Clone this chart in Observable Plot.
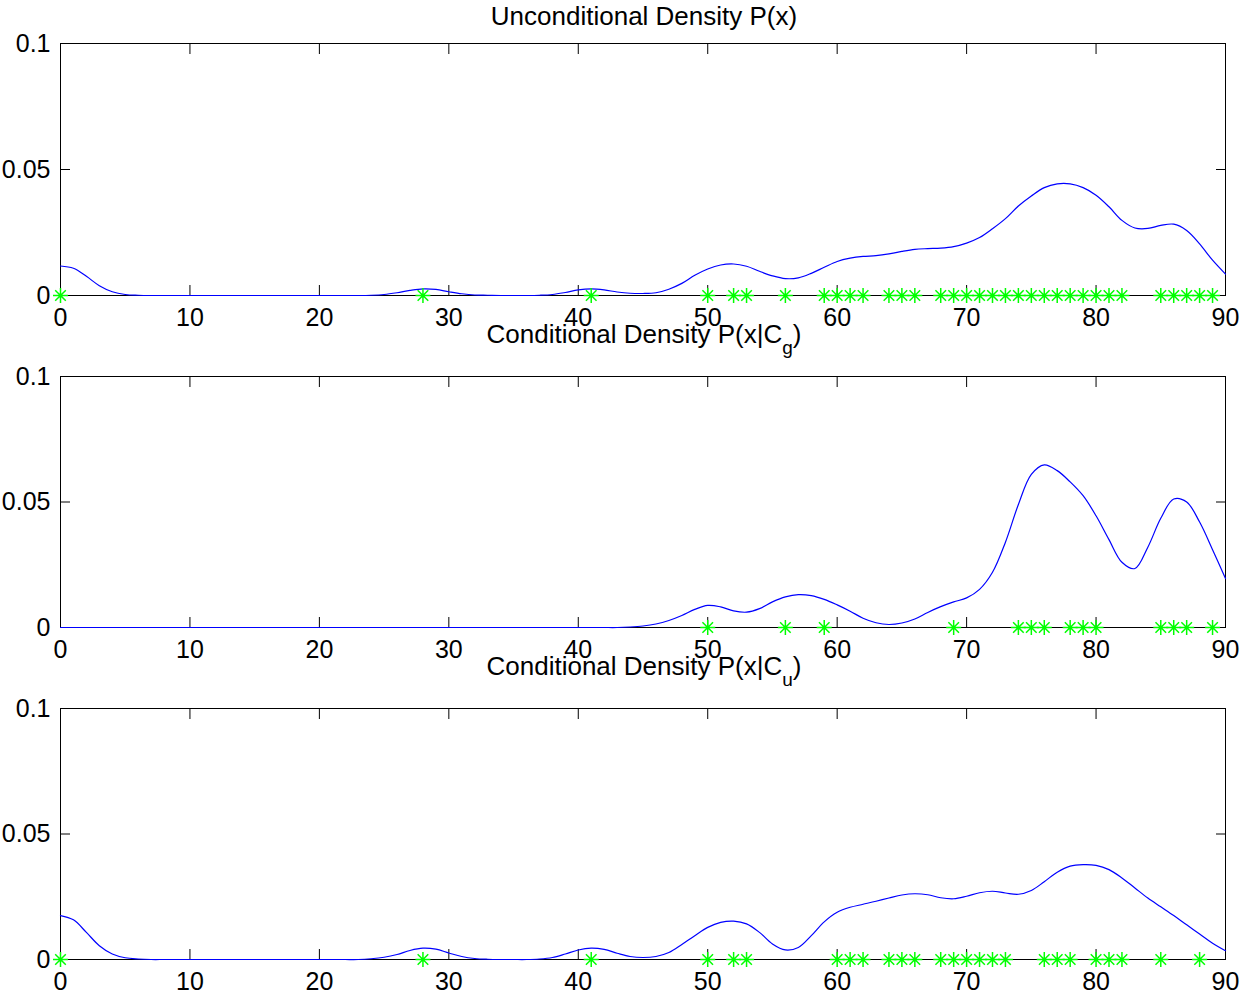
<!DOCTYPE html>
<html><head><meta charset="utf-8">
<script src="https://cdn.jsdelivr.net/npm/d3@7"></script>
<script src="https://cdn.jsdelivr.net/npm/@observablehq/plot@0.6"></script>
<style>
body{margin:0;background:#fff;}
#wrap{position:relative;width:1242px;height:996px;overflow:hidden;background:#fff;}
#wrap svg{position:absolute;left:0;}
</style></head><body><div id="wrap"></div>
<script>
const xGrid = [0,1,2,3,4,5,6,7,8,9,10,11,12,13,14,15,16,17,18,19,20,21,22,23,24,25,26,27,28,29,30,31,32,33,34,35,36,37,38,39,40,41,42,43,44,45,46,47,48,49,50,51,52,53,54,55,56,57,58,59,60,61,62,63,64,65,66,67,68,69,70,71,72,73,74,75,76,77,78,79,80,81,82,83,84,85,86,87,88,89,90];

const densAll = [0.0117,0.0108,0.0076,0.0039,0.0015,0.0004,0.0001,
 0,0,0,0,0,0,0,0,0,0,0,0,0,0,0,0,0,
 0.0001,0.0004,0.0011,0.002,0.0026,0.0024,0.0015,0.0007,0.0002,0.0001,
 0,0,0,
 0.0001,0.0004,0.0012,0.0022,0.0026,0.0022,0.0014,0.0009,0.0008,0.0011,
 0.0025,0.0048,0.008,0.0105,0.0121,0.0125,0.0116,0.0096,0.0078,0.0067,
 0.007,0.0088,0.0112,0.0135,0.0148,0.0155,0.0158,0.0165,0.0175,0.0183,
 0.0186,0.0188,0.0194,0.0208,0.023,0.0265,0.0305,0.0355,0.0395,0.0428,
 0.0443,0.0443,0.0428,0.0398,0.0352,0.0298,0.0268,0.0266,0.0278,0.0283,
 0.0258,0.0205,0.014,0.0085];

const densG = [0,0,0,0,0,0,0,0,0,0,0,0,0,0,0,0,0,0,0,0,0,0,
 0,0,0,0,0,0,0,0,0,0,0,0,0,0,0,0,0,0,0,0,0,0,
 0.0002,0.0006,0.0014,0.0028,0.0048,0.0072,0.0088,0.0082,0.0066,0.0061,
 0.0075,0.0102,0.0122,0.0131,0.0127,0.0112,0.009,0.0065,0.0037,0.0019,
 0.0012,0.0018,0.0034,0.006,0.0083,0.0102,0.0118,0.0152,0.022,0.034,
 0.049,0.061,0.0648,0.0625,0.058,0.0525,0.0445,0.035,0.026,0.0235,
 0.032,0.0435,0.0512,0.05,0.042,0.031,0.0195];

const densU = [0.0175,0.0158,0.0108,0.0055,0.0022,0.0007,0.0002,
 0,0,0,0,0,0,0,0,0,0,0,0,0,0,0,0,0,
 0.0003,0.0009,0.002,0.0036,0.0045,0.0041,0.0026,0.0012,0.0004,0.0001,
 0,0,0,
 0.0002,0.0008,0.0022,0.0038,0.0045,0.004,0.0025,0.0012,0.0008,0.0012,
 0.0028,0.006,0.0095,0.0128,0.0148,0.0153,0.0142,0.0108,0.0062,0.0038,
 0.0048,0.0095,0.015,0.0188,0.0208,0.022,0.0232,0.0245,0.0257,0.0262,
 0.0258,0.0246,0.0242,0.0252,0.0266,0.0272,0.0265,0.026,0.0275,0.031,
 0.0348,0.0372,0.0378,0.0375,0.0358,0.0325,0.0285,0.0245,0.021,0.0175,
 0.0138,0.0102,0.0065,0.0035];

const obsAll = [0,28,41,50,52,53,56,59,60,61,62,64,65,66,68,69,70,71,72,73,74,75,76,77,78,79,80,81,82,85,86,87,88,89];
const obsG = [50,56,59,69,74,75,76,78,79,80,85,86,87,89];
const obsU = [0,28,41,50,52,53,60,61,62,64,65,66,68,69,70,71,72,73,76,77,78,80,81,82,85,88];

const xTicks = [0,10,20,30,40,50,60,70,80,90];
const yTicks = [0,0.05,0.1];

const titleMain = ["Unconditional Density P(x)", "Conditional Density P(x|C", "Conditional Density P(x|C"];
const titleSub = ["", "g", "u"];
const titleTail = ["", ")", ")"];

const FONT = "'Liberation Sans', Arial, Helvetica, sans-serif";

const star = {
  draw(ctx, size) {
    const r = Math.sqrt(size / Math.PI);
    const d = r * Math.SQRT1_2;
    ctx.moveTo(0, -r); ctx.lineTo(0, r);
    ctx.moveTo(-r, 0); ctx.lineTo(r, 0);
    ctx.moveTo(-d, -d); ctx.lineTo(d, d);
    ctx.moveTo(-d, d); ctx.lineTo(d, -d);
  }
};

const panels = [
  {dens: densAll, obs: obsAll, top: 0, h: 332},
  {dens: densG, obs: obsG, top: 333, h: 331},
  {dens: densU, obs: obsU, top: 665, h: 331}
];

const wrap = document.getElementById("wrap");

panels.forEach((p) => {
  const rows = xGrid.map((x, i) => ({x, y: p.dens[i]}));
  const chart = Plot.plot({
    width: 1242,
    height: p.h,
    marginLeft: 60,
    marginRight: 17,
    marginTop: 43,
    marginBottom: 37,
    style: {fontFamily: FONT, fontSize: "25px", color: "black", background: "transparent", overflow: "visible"},
    x: {domain: [0, 90]},
    y: {domain: [0, 0.1]},
    marks: [
      Plot.frame({stroke: "black", strokeWidth: 1}),
      Plot.axisX({ticks: xTicks, anchor: "bottom", tickSize: 10, dy: -10, fill: "none", label: null}),
      Plot.axisX({ticks: xTicks, anchor: "top", tickSize: 10, dy: 10, fill: "none", label: null}),
      Plot.axisY({ticks: yTicks, anchor: "left", tickSize: 10, dx: 10, fill: "none", label: null}),
      Plot.axisY({ticks: yTicks, anchor: "right", tickSize: 10, dx: -10, fill: "none", label: null}),
      Plot.axisX({ticks: xTicks, anchor: "bottom", tickSize: 0, tickPadding: 13, fontSize: 25, label: null, tickFormat: d => String(d)}),
      Plot.axisY({ticks: yTicks, anchor: "left", tickSize: 0, tickPadding: 10, fontSize: 25, label: null, tickFormat: d => String(d)}),
      Plot.line(rows, {x: "x", y: "y", stroke: "#0000ff", strokeWidth: 1.2, curve: "catmull-rom"}),
      Plot.dot(p.obs, {x: d => d, y: () => 0, r: 7.5, symbol: star, stroke: "#00ff00", strokeWidth: 1.5})
    ]
  });
  chart.style.top = p.top + "px";
  wrap.appendChild(chart);
});

// titles overlay
const ov = d3.select(wrap).append("svg")
  .attr("width", 1242).attr("height", 996)
  .style("top", "0px").style("pointer-events", "none");
const baselines = [25, 343, 675];
baselines.forEach((b, i) => {
  const t = ov.append("text")
    .attr("x", 644).attr("y", b)
    .attr("text-anchor", "middle")
    .attr("font-family", FONT)
    .attr("font-size", 26)
    .attr("fill", "black");
  t.append("tspan").text(titleMain[i]);
  if (titleSub[i]) {
    t.append("tspan").attr("font-size", 19).attr("dy", 11).text(titleSub[i]);
    t.append("tspan").attr("font-size", 26).attr("dy", -11).text(titleTail[i]);
  }
});
</script>
</body></html>
